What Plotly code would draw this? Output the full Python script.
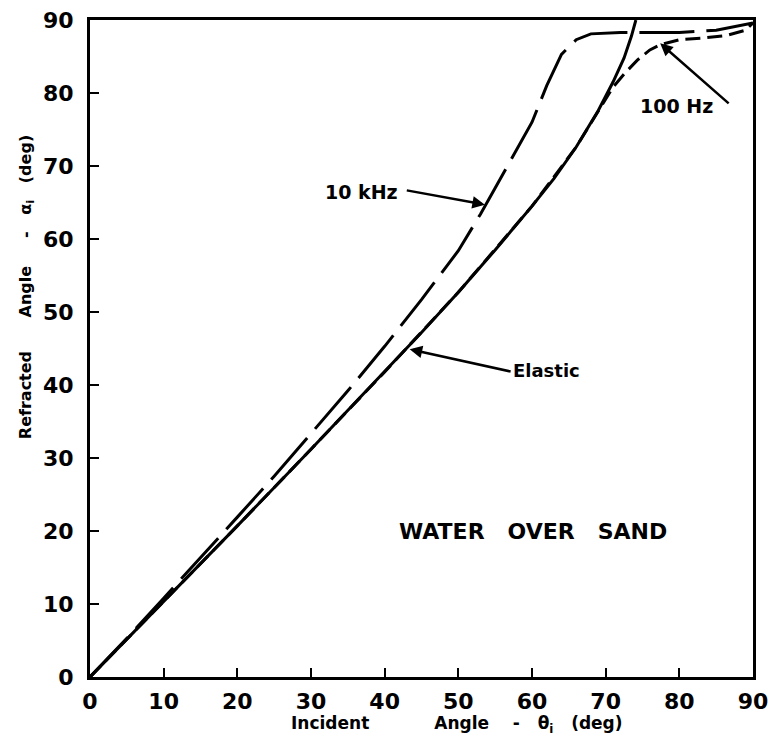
import plotly.graph_objects as go

# Incident angle (deg) -> refracted angle (deg), water over sand
elastic_theta = [0, 10, 20, 30, 40, 45, 50, 55, 60, 63, 66, 69, 71, 72.5, 73.5, 74.1]
elastic_alpha = [0, 10.3, 20.7, 31.2, 41.8, 47.2, 52.7, 58.5, 64.5, 68.3, 72.6, 77.6, 81.5, 84.8, 87.8, 90]

khz10_theta = [0, 5, 10, 15, 20, 25, 30, 35, 40, 45, 50, 53, 55, 58, 60, 62, 64, 66, 68, 72, 80, 85, 90]
khz10_alpha = [0, 5.3, 10.8, 16.3, 21.9, 27.5, 33.3, 39.2, 45.3, 51.7, 58.4, 63.4, 67.0, 72.3, 76.0, 81.0, 85.3, 87.3, 88.1, 88.3, 88.3, 88.6, 89.6]

hz100_theta = [0, 10, 20, 30, 40, 50, 60, 66, 69, 71, 72.5, 74.3, 76, 77.4, 80, 83, 86.5, 89, 90]
hz100_alpha = [0, 10.3, 20.7, 31.2, 41.8, 52.7, 64.5, 72.6, 77.6, 80.8, 82.6, 84.5, 85.9, 86.6, 87.3, 87.5, 87.9, 88.6, 89.6]

x_ticks = [0, 10, 20, 30, 40, 50, 60, 70, 80, 90]
y_ticks = [0, 10, 20, 30, 40, 50, 60, 70, 80, 90]

FONT = "DejaVu Sans"
INK = "black"
SP = "\u00a0"

fig = go.Figure()
fig.add_trace(go.Scatter(x=elastic_theta, y=elastic_alpha, mode="lines",
                         line=dict(color=INK, width=3), name="Elastic"))
fig.add_trace(go.Scatter(x=khz10_theta, y=khz10_alpha, mode="lines",
                         line=dict(color=INK, width=3, dash="55px,12px"), name="10 kHz"))
fig.add_trace(go.Scatter(x=hz100_theta, y=hz100_alpha, mode="lines",
                         line=dict(color=INK, width=3, dash="15px,7px"), name="100 Hz"))

axis_common = dict(
    range=[0, 90], showgrid=False, zeroline=False, automargin=False,
    showline=True, linecolor=INK, linewidth=3, mirror=True,
    ticks="inside", ticklen=9, tickwidth=2, tickcolor=INK,
    tickfont=dict(family=FONT, size=22, color=INK, weight="bold"),
)
fig.update_xaxes(tickvals=x_ticks, ticklabelstandoff=3, **axis_common)
fig.update_yaxes(tickvals=y_ticks, ticklabelstandoff=9, **axis_common)

label_font = dict(family=FONT, size=19, color=INK, weight="bold")

# Curve labels with pointer arrows
arrows = [
    # (tail x, tail y, tip x, tip y)
    (42.8, 66.7, 53.6, 64.7),
    (57.3, 41.8, 43.4, 44.9),
    (86.9, 78.4, 77.4, 86.8),
]
for ax_, ay_, x_, y_ in arrows:
    fig.add_annotation(x=x_, y=y_, ax=ax_, ay=ay_, xref="x", yref="y",
                       axref="x", ayref="y", text="", showarrow=True,
                       arrowhead=2, arrowsize=1, arrowwidth=2.5,
                       arrowcolor=INK, standoff=0, startstandoff=0)

fig.add_annotation(x=36.8, y=66.4, xref="x", yref="y", text="10 kHz",
                   showarrow=False, font=label_font)
fig.add_annotation(x=62.0, y=42.0, xref="x", yref="y", text="Elastic",
                   showarrow=False, font=dict(family=FONT, size=18, color=INK, weight="bold"))
fig.add_annotation(x=79.6, y=78.2, xref="x", yref="y", text="100 Hz",
                   showarrow=False, font=label_font)
fig.add_annotation(x=60.1, y=19.9, xref="x", yref="y",
                   text="WATER" + SP * 3 + "OVER" + SP * 3 + "SAND",
                   showarrow=False, font=dict(family=FONT, size=22, color=INK, weight="bold"))

# Axis titles
x_title = ("Incident" + SP * 11 + "Angle" + SP * 4 + "-" + SP * 3
           + "θ<sub>i</sub>" + SP * 3 + "(deg)")
y_title = ("Refracted" + SP * 6 + "Angle" + SP * 5 + "-" + SP * 3
           + "α<sub>i</sub>" + SP * 3 + "(deg)")
fig.add_annotation(x=49.8, y=0, xref="x", yref="paper", yshift=-47,
                   xanchor="center", yanchor="middle", text=x_title,
                   showarrow=False,
                   font=dict(family=FONT, size=17, color=INK, weight="bold"))
fig.add_annotation(x=0, y=53.4, xref="paper", yref="y", xshift=-64,
                   xanchor="center", yanchor="middle", text=y_title,
                   textangle=-90, showarrow=False,
                   font=dict(family=FONT, size=16, color=INK, weight="bold"))

fig.update_layout(
    width=769, height=750,
    margin=dict(l=90, r=16, t=20, b=73),
    paper_bgcolor="white", plot_bgcolor="white",
    showlegend=False,
)

fig.write_html("out.html")
